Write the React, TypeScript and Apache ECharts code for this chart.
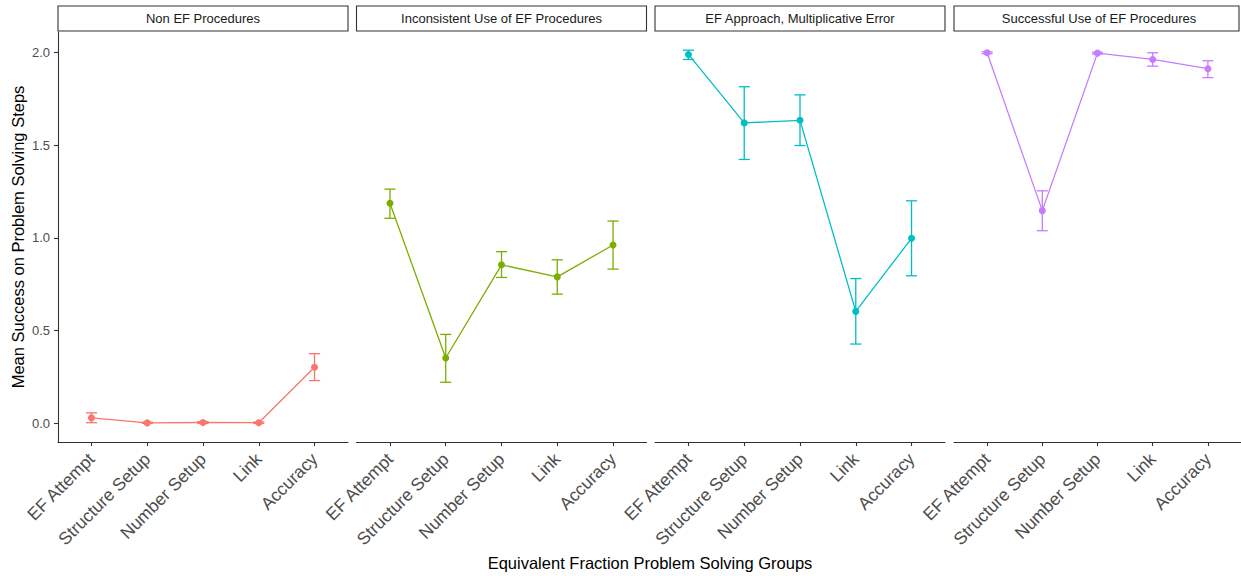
import React, { useEffect, useRef } from "react";
import * as echarts from "echarts";

const categories = ["EF Attempt", "Structure Setup", "Number Setup", "Link", "Accuracy"];
const groups = [
  "Non EF Procedures",
  "Inconsistent Use of EF Procedures",
  "EF Approach, Multiplicative Error",
  "Successful Use of EF Procedures",
];
const colors = ["#F8766D", "#7CAE00", "#00BFC4", "#C77CFF"];

const meanNonEF = [0.03, 0.003, 0.005, 0.004, 0.303];
const lowerNonEF = [0.004, 0.0, 0.0, 0.0, 0.231];
const upperNonEF = [0.057, 0.007, 0.01, 0.008, 0.376];

const meanInconsistent = [1.187, 0.353, 0.855, 0.79, 0.962];
const lowerInconsistent = [1.106, 0.222, 0.787, 0.697, 0.832];
const upperInconsistent = [1.263, 0.48, 0.926, 0.882, 1.091];

const meanMultiplicative = [1.989, 1.62, 1.634, 0.604, 0.998];
const lowerMultiplicative = [1.962, 1.423, 1.498, 0.428, 0.796];
const upperMultiplicative = [2.012, 1.815, 1.771, 0.781, 1.2];

const meanSuccessful = [1.998, 1.147, 1.996, 1.962, 1.912];
const lowerSuccessful = [1.993, 1.039, 1.991, 1.926, 1.864];
const upperSuccessful = [2.003, 1.254, 2.001, 1.998, 1.955];

const yTicks = [0, 0.5, 1, 1.5, 2];

const means = [meanNonEF, meanInconsistent, meanMultiplicative, meanSuccessful];
const lowers = [lowerNonEF, lowerInconsistent, lowerMultiplicative, lowerSuccessful];
const uppers = [upperNonEF, upperInconsistent, upperMultiplicative, upperSuccessful];

const FONT = "'Liberation Sans', Arial, Helvetica, sans-serif";

export default function App() {
  const ref = useRef<HTMLDivElement>(null);
  useEffect(() => {
    if (!ref.current) return;
    const chart = echarts.init(ref.current, undefined, { renderer: "svg" });
    const lefts = [58, 356.5, 655, 954];
    const panelW = 290;
    const top = 32;
    const height = 410;
    const xPos = categories.map((_, i) => i + 1);

    const grids = lefts.map((l) => ({ left: l, top, width: panelW, height }));
    const xAxes = lefts.map((_, g) => ({
      type: "value",
      gridIndex: g,
      min: 0.4,
      max: 5.6,
      splitLine: { show: false },
      axisLine: { show: true, onZero: false, lineStyle: { color: "#333333", width: 1.1 } },
      axisTick: { show: true, customValues: xPos, length: 4, lineStyle: { color: "#333333", width: 1.1 } },
      axisLabel: {
        show: true,
        customValues: xPos,
        rotate: 45,
        margin: 14,
        fontSize: 17.5,
        color: "#4d4d4d",
        fontFamily: FONT,
        formatter: (v: number) => categories[Math.round(v) - 1] ?? "",
      },
    }));
    const yAxes = lefts.map((_, g) => ({
      type: "value",
      gridIndex: g,
      min: -0.1,
      max: 2.11,
      splitLine: { show: false },
      axisLine: { show: g === 0, onZero: false, lineStyle: { color: "#333333", width: 1.1 } },
      axisTick: { show: g === 0, customValues: yTicks, length: 4, lineStyle: { color: "#333333", width: 1.1 } },
      axisLabel: {
        show: g === 0,
        customValues: yTicks,
        margin: 8,
        fontSize: 13,
        color: "#4d4d4d",
        fontFamily: FONT,
        formatter: (v: number) => v.toFixed(1),
      },
    }));

    const series: any[] = [];
    groups.forEach((_, g) => {
      const color = colors[g];
      series.push({
        type: "custom",
        xAxisIndex: g,
        yAxisIndex: g,
        encode: { x: 0, y: [1, 2] },
        data: xPos.map((x, i) => [x, lowers[g][i], uppers[g][i]]),
        renderItem: (params: any, api: any) => {
          const x = api.value(0);
          const lo = api.coord([x, api.value(1)]);
          const hi = api.coord([x, api.value(2)]);
          const hw = api.size([0.1, 0])[0];
          const style = { stroke: color, lineWidth: 1.3 };
          return {
            type: "group",
            children: [
              { type: "line", shape: { x1: lo[0], y1: lo[1], x2: hi[0], y2: hi[1] }, style },
              { type: "line", shape: { x1: hi[0] - hw, y1: hi[1], x2: hi[0] + hw, y2: hi[1] }, style },
              { type: "line", shape: { x1: lo[0] - hw, y1: lo[1], x2: lo[0] + hw, y2: lo[1] }, style },
            ],
          };
        },
        z: 2,
      });
      series.push({
        type: "line",
        xAxisIndex: g,
        yAxisIndex: g,
        data: xPos.map((x, i) => [x, means[g][i]]),
        symbol: "circle",
        symbolSize: 7,
        showSymbol: true,
        itemStyle: { color },
        lineStyle: { color, width: 1.3 },
        z: 3,
      });
    });

    const graphic: any[] = [];
    lefts.forEach((l, g) => {
      graphic.push({
        type: "rect",
        shape: { x: l, y: 6, width: g === 3 ? 285 : panelW, height: 25 },
        style: { fill: "#ffffff", stroke: "#333333", lineWidth: 1.1 },
      });
      graphic.push({
        type: "text",
        x: l + panelW / 2,
        y: 18.5,
        style: {
          text: groups[g],
          fontSize: 13,
          fill: "#1a1a1a",
          fontFamily: FONT,
          align: "center",
          verticalAlign: "middle",
        },
      });
    });
    graphic.push({
      type: "text",
      x: 650,
      y: 563,
      style: {
        text: "Equivalent Fraction Problem Solving Groups",
        fontSize: 16.5,
        fill: "#000000",
        fontFamily: FONT,
        align: "center",
        verticalAlign: "middle",
      },
    });
    graphic.push({
      type: "text",
      x: 18,
      y: 237,
      rotation: Math.PI / 2,
      style: {
        text: "Mean Success on Problem Solving Steps",
        fontSize: 16.5,
        fill: "#000000",
        fontFamily: FONT,
        align: "center",
        verticalAlign: "middle",
      },
    });

    chart.setOption({
      animation: false,
      backgroundColor: "#ffffff",
      grid: grids,
      xAxis: xAxes,
      yAxis: yAxes,
      series,
      graphic,
    });
    return () => chart.dispose();
  }, []);
  return (
    <div
      ref={ref}
      style={{ position: "absolute", left: 0, top: 0, width: 1241, height: 576 }}
    />
  );
}
